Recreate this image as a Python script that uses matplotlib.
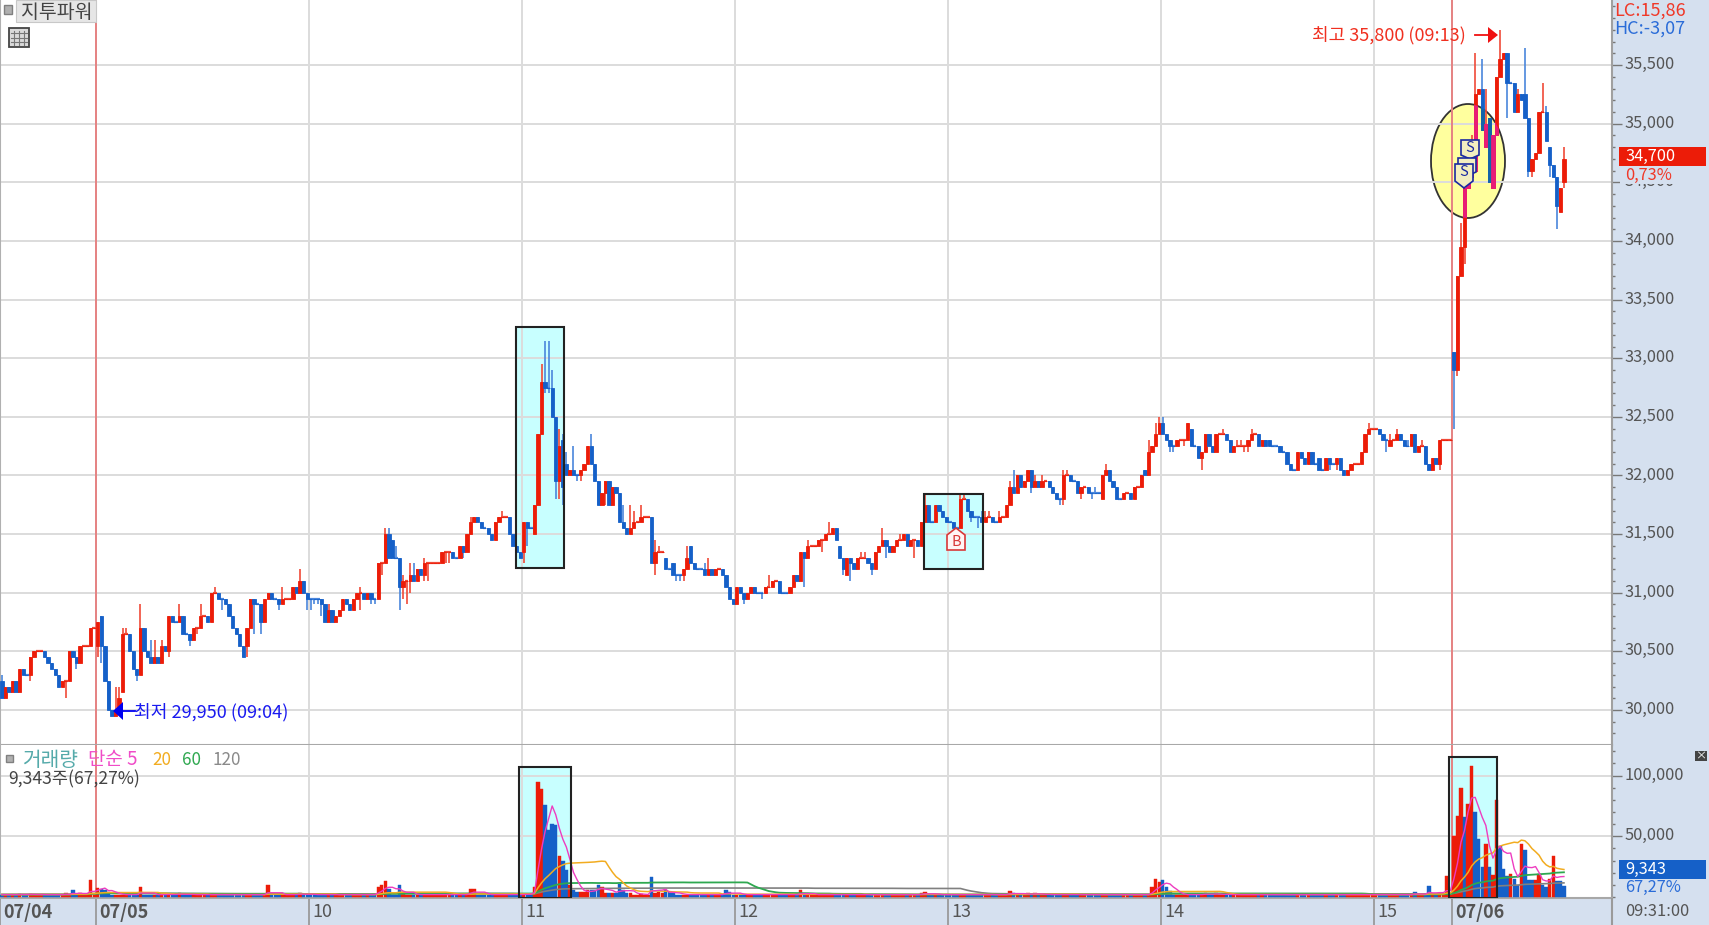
import numpy as np
import pandas as pd
import matplotlib
matplotlib.use("Agg")
import matplotlib.pyplot as plt
from matplotlib.patches import Rectangle, Ellipse, Polygon
from matplotlib.transforms import ScaledTranslation
from matplotlib.ticker import FuncFormatter, MultipleLocator

plt.rcParams['font.family'] = ['Noto Sans CJK KR', 'DejaVu Sans']

# ---------- data: 1-minute closes per session hour ----------
first_open = 30250
close_0704 = [30100,30200,30150,30250,30150,30350,30300,30300,30450,30500,30500,30500,30450,30400,30350,30300,30200,30250,30250,30500,30450,30400,30550,30550,30550,30700,30700]
close_09 = [30750,30550,30250,30000,29950,30000,30100,30650,30650,30500,30350,30300,30700,30500,30450,30400,30450,30400,30550,30500,30800,30750,30750,30800,30650,30650,30600,30700,30700,30800,30800,30750,31000,31000,30950,30950,30900,30800,30700,30650,30550,30450,30700,30950,30900,30900,30750,30950,31000,30950,30950,30900,30950,30950,30950,31050,31000,31100,31000,30950]
close_10 = [30950,30950,30950,30900,30750,30850,30750,30800,30850,30950,30900,30850,30950,31000,31000,30950,31000,30950,30950,31250,31250,31500,31300,31300,31300,31050,31100,31100,31150,31100,31200,31150,31250,31250,31250,31250,31250,31350,31350,31350,31300,31300,31400,31350,31500,31600,31650,31600,31550,31550,31500,31450,31600,31650,31650,31650,31500,31400,31350,31300]
close_11 = [31600,31550,31550,31750,32350,32800,32750,32750,32500,31950,32250,31900,32000,32050,32000,32000,32050,32100,32250,32100,31950,31750,31850,31950,31750,31900,31850,31600,31550,31500,31550,31600,31600,31650,31650,31650,31250,31350,31350,31350,31200,31200,31150,31150,31150,31200,31300,31250,31200,31200,31200,31150,31200,31150,31200,31200,31150,31050,30950,30900]
close_12 = [31050,31000,30950,31000,31050,31000,31000,31000,31050,31050,31100,31100,31000,31000,31000,31050,31150,31100,31350,31300,31400,31400,31400,31450,31450,31500,31500,31550,31450,31300,31200,31300,31250,31200,31300,31300,31300,31250,31200,31350,31400,31450,31400,31350,31400,31450,31450,31500,31400,31450,31450,31400,31600,31750,31600,31600,31750,31700,31650,31600]
close_13 = [31600,31550,31550,31800,31800,31700,31650,31650,31650,31600,31650,31650,31600,31600,31650,31650,31750,31900,31850,32000,31900,31950,32050,31900,31950,31900,31950,31950,31900,31850,31800,31800,32000,32000,31950,31950,31850,31900,31900,31850,31850,31850,31850,32000,32050,31950,31900,31800,31800,31850,31850,31800,31900,31900,32000,32000,32200,32250,32350,32450]
close_14 = [32350,32300,32250,32250,32300,32300,32300,32450,32250,32250,32150,32200,32350,32250,32200,32350,32350,32350,32300,32200,32250,32250,32250,32250,32300,32350,32350,32250,32300,32250,32250,32250,32250,32200,32200,32100,32050,32050,32200,32150,32100,32200,32100,32100,32050,32050,32150,32100,32100,32150,32050,32000,32050,32100,32100,32100,32200,32350,32400,32400]
close_15 = [32400,32350,32300,32300,32300,32300,32350,32300,32250,32250,32350,32200,32250,32250,32100,32050,32150,32100,32300,32300,32300,32300]
close_0706 = [32900,33700,33950,34450,34550,34650,35250,35300,34950,35000,34500,34900,35400,35550,35600,35350,35350,35100,35250,35200,35050,34600,34700,34750,35100,35100,34850,34650,34550,34300,34450,34700]

open_gaps = {'09':{0:30550,1:30800,7:30150,42:30550},
             '10':{22:31500,23:31450,25:31300,56:31650},
             '11':{0:31350,3:31500,6:32800,10:31950,11:32300,12:32100,36:31650,40:31300,42:31250,47:31400},
             '12':{0:30900,29:31400,31:31150,54:31750},
             '13':{43:31800,55:32050,56:32000},
             '14':{0:32450,8:32400,30:32300,44:32150},
             '15':{1:32400,4:32250},
             '0706':{0:33050,3:33950,6:34600,8:35300,9:34800,10:35050,11:34450,12:34900,20:35250,26:35100,27:34800,28:34650,30:34250,31:34500}}
highs = {'0704':{0:30300},
         '09':{5:30200,6:30200,7:30700,8:30700,12:30900,15:30600,16:30600,18:30600,23:30900,29:30900,33:31050,52:31050,57:31200},
         '10':{5:30900,14:31050,21:31550,22:31550,24:31400,26:31150,28:31250,29:31250,32:31300,45:31650,48:31600,54:31700},
         '11':{5:32950,6:33150,7:33150,8:32900,10:32400,11:32350,12:32200,14:32250,19:32350,28:31750,30:31750,31:31700,33:31750,37:31450,38:31400,46:31400,51:31250,52:31300},
         '12':{9:31150,20:31450,26:31600,35:31350,36:31350,41:31550,46:31500,53:31850},
         '13':{3:31850,4:31850,9:31700,10:31700,11:31700,14:31700,17:31950,18:32050,24:32000,26:32000,32:32050,33:32050,41:31900,44:32100,56:32300,58:32450,59:32500},
         '14':{0:32500,17:32400,21:32300,22:32300,25:32400,39:32200,58:32450},
         '15':{4:32350,6:32400,9:32300,13:32300},
         '0706':{2:34150,3:34100,5:34900,6:35600,8:35550,9:35300,13:35800,18:35300,20:35650,25:35350,26:35150,31:34800}}
lows = {'0704':{8:30250,18:30100,21:30350},
        '09':{0:30450,1:30400,11:30250,20:30450,26:30550,28:30650,35:30850,42:30450,44:30650,46:30650,51:30850,59:30850},
        '10':{0:30850,1:30900,2:30900,3:30800,14:30850,17:30900,18:30900,20:31150,25:30850,26:30950,27:30900,28:31000,32:31100,33:31100,38:31250,39:31250,43:31300},
        '11':{0:31250,1:31400,6:32700,7:32700,9:31800,10:31800,11:31750,15:31950,16:31950,23:31750,37:31150,43:31100,44:31100,45:31100},
        '12':{2:30900,7:30950,19:31050,24:31350,30:31150,32:31100,38:31150,42:31300,44:31350,50:31300},
        '13':{6:31600,8:31550,23:31850,31:31750,32:31750,37:31800,40:31800,43:31800},
        '14':{2:32200,3:32200,6:32250,11:32050,23:32200,24:32200,47:32050,49:32050},
        '15':{3:32200,16:32050,18:32050},
        '0706':{0:32400,1:32850,3:33800,15:35050,21:34550,22:34550,27:34550,29:34100,31:34450}}

# traded shares per minute; unlisted minutes are the quiet level
quiet_volume = 2000
vol_0704 = {5:2500,8:2500,18:3000,20:5500,22:3000,25:14000}
vol_09 = {0:7500,1:7000,2:6000,3:4000,12:8000,20:2500,23:3000,48:9500,57:3500}
vol_10 = {19:8000,20:10000,21:13000,22:7000,25:9500,26:4000,45:7000,46:7000}
vol_11 = {0:2500,1:2500,2:2500,3:8000,4:95000,5:89000,6:75500,7:55000,8:60500,9:59000,10:34000,11:30000,12:22000,13:10000,14:5500,15:4000,16:4000,17:4000,18:5500,19:5500,20:6000,21:10000,22:8000,23:3000,24:3000,25:3000,26:3000,27:11000,28:5500,29:3500,30:3000,33:2500,36:16500,37:3000,38:4000,39:3000,40:5500,41:4000,42:3000,57:6000,58:4000}
vol_12 = {18:6000,52:3000,53:4000}
vol_13 = {17:5000,18:3000,22:3500,24:3000,57:8000,58:15000,59:12000}
vol_14 = {0:14000,1:8000,2:5000,12:3500,15:3000}
vol_15 = {11:4000,15:9000,18:3000,20:17000}
vol_0706 = [50000,67000,89500,66000,77000,108000,70000,48000,25000,44000,25000,18000,80000,42000,23000,17000,19000,15000,10000,44000,39000,14000,14000,14300,19000,10000,8500,15000,34000,13000,13000,9343]
vol_0706_side = list("rrrbrrbbbrbrrbbbrbbrbbbrrbbrrbbb")

hour_labels = ['07/04','07/05','10','11','12','13','14','15','07/06']
price_ticks = list(range(30000, 36000, 500))
vol_ticks = [50000, 100000]
legend_items = [('거래량','#55AAAA',22,14.6),('단순 5','#F04CC8',88,13.6),('20','#F2AC20',152,12.3),('60','#2FA850',182,12.3),('120','#8A8A8A',213,12.3)]

keys = ['0704','09','10','11','12','13','14','15','0706']
closes = [close_0704,close_09,close_10,close_11,close_12,close_13,close_14,close_15,close_0706]
vols = [vol_0704,vol_09,vol_10,vol_11,vol_12,vol_13,vol_14,vol_15]

# ---------- assemble ----------
o, c, h, l, v, start = [], [], [], [], [], {}
prev = first_open
for k, cl in zip(keys, closes):
    start[k] = len(c)
    for j, cv in enumerate(cl):
        op = open_gaps.get(k, {}).get(j, prev)
        o.append(op); c.append(cv)
        h.append(max(op, cv, highs.get(k, {}).get(j, 0)))
        l.append(min(op, cv, lows.get(k, {}).get(j, 99999)))
        prev = cv
for k, d in zip(keys, vols):
    n = len(closes[keys.index(k)])
    v += [d.get(j, quiet_volume) for j in range(n)]
v += vol_0706
o, c, h, l, v = map(np.array, (o, c, h, l, v))
idx = np.arange(len(c))

RED, BLUE, PINK, DKBLUE = '#EC1C08', '#1560C8', '#E81C78', '#1464A8'
REDW, BLUEW = '#F04A38', '#4A86DC'
cols, last = [], RED
for a, b in zip(o, c):
    if b > a: last = RED
    elif b < a: last = BLUE
    cols.append(last)
i6 = start['0706']
wick_cols = [REDW if x == RED else BLUEW for x in cols]

vcols = [RED if x == RED else BLUE for x in cols]
for j, s in enumerate(vol_0706_side):
    if j < len(vol_0706):
        vcols[i6 + j] = RED if s == 'r' else BLUE

# ---------- figure and scales ----------
W, H = 1709, 925
PANEL = '#D5E0EF'
fig = plt.figure(figsize=(W/100, H/100), dpi=100, facecolor=PANEL)
RIGHT, SPLIT, BOT = 1612, 745, 898
ax = fig.add_axes([0, (H-SPLIT)/H, RIGHT/W, SPLIT/H])
axv = fig.add_axes([0, (H-BOT)/H, RIGHT/W, (BOT-SPLIT)/H])

PXM = 3.55
hour_pos = [-0.5 + start[k] for k in keys]
hour_pos[0] = 26.5 - 96/PXM
xlim = (26.5 - 96/PXM, 26.5 + (RIGHT-96)/PXM)
def xi(px): return 26.5 + (px-96)/PXM
def yp(py): return 30000 + (710-py)/0.11725
def yv(py): return (897-py)/60.7*50000

ax.set_xlim(xlim); axv.set_xlim(xlim)
ax.set_ylim(yp(SPLIT), yp(0))
axv.set_ylim(yv(BOT), yv(SPLIT))

GRID = '#DCDCDC'
TICKC = '#777777'
LABC = '#555555'
for a in (ax, axv):
    a.set_facecolor('white')
    a.set_axisbelow('line')
    a.grid(True, color=GRID, lw=1.4)
    for s in a.spines.values():
        s.set_visible(False)
    a.spines['right'].set_visible(True); a.spines['right'].set_color('#A0A0A0'); a.spines['right'].set_linewidth(1.5)
    a.spines['left'].set_visible(True); a.spines['left'].set_color('#B0B0B0'); a.spines['left'].set_linewidth(1.5)
    a.spines['bottom'].set_visible(True); a.spines['bottom'].set_color('#A8A8A8'); a.spines['bottom'].set_linewidth(1.5)
    a.yaxis.tick_right()
    a.tick_params(axis='y', which='major', length=7, width=1, color=TICKC, labelcolor=LABC, pad=2, labelsize=11.8)
    a.tick_params(axis='y', which='minor', length=2.5, width=1, color=TICKC)

ax.set_yticks(price_ticks)
ax.yaxis.set_minor_locator(MultipleLocator(100))
ax.yaxis.set_major_formatter(FuncFormatter(lambda x, _: f"{int(x):,}"))
axv.set_yticks(vol_ticks)
axv.yaxis.set_minor_locator(MultipleLocator(10000))
axv.yaxis.set_major_formatter(FuncFormatter(lambda x, _: f"{int(x):,}"))
up = ScaledTranslation(0, 2.5/100, fig.dpi_scale_trans)
for a in (ax, axv):
    for t in a.get_yticklabels():
        t.set_ha('left')
        t.set_transform(t.get_transform() + up)

ax.set_xticks(hour_pos); ax.tick_params(axis='x', length=0, labelbottom=False)
axv.set_xticks(hour_pos)
axv.set_xticklabels(hour_labels)
axv.tick_params(axis='x', length=19.5, width=1.3, color='#9A9A9A', pad=-16, labelsize=13, labelcolor=LABC)
off = ScaledTranslation(3/100, 0, fig.dpi_scale_trans)
for t, lab in zip(axv.get_xticklabels(), hour_labels):
    t.set_ha('left')
    t.set_transform(t.get_transform() + off)
    if '/' in lab:
        t.set_fontweight('bold')

# highlight boxes
def box(a, x0, x1, y0, y1, fy):
    a.add_patch(Rectangle((xi(x0), fy(y1)), xi(x1)-xi(x0), fy(y0)-fy(y1), fc='#C8FFFF', ec='none', zorder=1))
    a.add_patch(Rectangle((xi(x0), fy(y1)), xi(x1)-xi(x0), fy(y0)-fy(y1), fc='none', ec='#222222', lw=1.5, zorder=6))
box(ax, 516, 564, 327, 568, yp)
box(ax, 924, 983, 494, 569, yp)
box(axv, 519, 571.5, 767, 898, yv)
box(axv, 1449, 1497, 757, 898, yv)

ell = Ellipse((xi(1468), yp(161)), 74/PXM, yp(104)-yp(218), fc='#FFFF9E', ec='#333333', lw=1.3, zorder=1)
ax.add_patch(ell)

for a in (ax, axv):
    for px in (96, 1452):
        a.axvline(xi(px), color='#E86A6A', lw=1.1, zorder=2)

# candles
ax.vlines(idx, l, h, colors=wick_cols, lw=1.2, zorder=3)
ax.bar(idx, np.abs(c-o), bottom=np.minimum(o, c), width=0.92, color=cols, edgecolor=cols, lw=0.6, zorder=4)
flat = c == o
ax.hlines(c[flat], idx[flat]-0.5, idx[flat]+0.5, colors=[wick_cols[i] for i in idx[flat]], lw=1.6, zorder=3)
# inside the yellow ellipse the bodies blend with the fill
inside_cols = [PINK if x == RED else DKBLUE for x in cols[i6:]]
blend = ax.bar(idx[i6:], np.abs(c-o)[i6:], bottom=np.minimum(o, c)[i6:], width=0.92, color=inside_cols, edgecolor=inside_cols, lw=0.6, zorder=4.5)
for b in blend:
    b.set_clip_path(ell)

# volume bars and moving averages
axv.bar(idx, v, width=0.96, color=vcols, edgecolor=vcols, lw=0.3, zorder=3)
ser = pd.Series(v, dtype=float)
for win, col, lw in [(120,'#808080',1.2),(60,'#2FA850',1.3),(20,'#F2AC20',1.1),(5,'#EE3CC0',1.0)]:
    axv.plot(idx, ser.rolling(win, min_periods=1).mean(), color=col, lw=lw, zorder=5)

# ---------- overlay in reference pixels ----------
ov = fig.add_axes([0, 0, 1, 1], zorder=10)
ov.set_xlim(0, W); ov.set_ylim(H, 0); ov.axis('off'); ov.patch.set_alpha(0)
def txt(x, y, s, color=LABC, size=12.3, **kw):
    ov.text(x, y, s, color=color, fontsize=size, va='center', ha=kw.pop('ha', 'left'), **kw)

# top-left controls
ov.add_patch(Rectangle((4, 5), 8, 9, fc='#B0B0B0', ec='#808080', lw=1))
ov.add_patch(Rectangle((16, 0), 80, 22, fc='#E6E6E6', ec='#C8C8C8', lw=0.8))
txt(21, 12.5, '지투파워', '#444444', 14)
ov.add_patch(Rectangle((9, 28), 20, 19, fc='#DADADA', ec='#444444', lw=1.3))
for gx in (14, 19, 24):
    ov.plot([gx, gx], [31, 45], color='#777777', lw=0.8)
for gy in (33, 38, 42):
    ov.plot([11, 27], [gy, gy], color='#777777', lw=0.8)

# high / low callouts
txt(1312, 35, '최고 35,800 (09:13)', '#F03020', 13)
ov.plot([1475, 1490], [35, 35], color='#F01010', lw=1.3)
ov.add_patch(Polygon([[1488, 27], [1498, 35], [1488, 43]], fc='#F01010', ec='none'))
txt(134, 712, '최저 29,950 (09:04)', '#1A1AF0', 13.1)
ov.plot([122, 135], [711, 711], color='#0000F0', lw=1.3)
ov.add_patch(Polygon([[123, 702], [113, 711], [123, 720]], fc='#0000F0', ec='none'))

# buy / sell flags
def flag(x0, y0, w, h1, h2, letter, ec, tc, fc, up=False):
    if up:
        pts = [[x0+w/2, y0], [x0+w, y0+h2], [x0+w, y0+h1+h2], [x0, y0+h1+h2], [x0, y0+h2]]
    else:
        pts = [[x0, y0], [x0+w, y0], [x0+w, y0+h1], [x0+w/2, y0+h1+h2], [x0, y0+h1]]
    ov.add_patch(Polygon(pts, fc=fc, ec=ec, lw=1.2))
    ov.text(x0+w/2, y0+(h2+h1/2 if up else h1/2), letter, color=tc, fontsize=10.5, ha='center', va='center')
flag(1461, 140, 18, 15, 4, 'S', '#1A2AA0', '#1A2AA0', '#F3EFC0')
flag(1458, 158, 18, 14, 4, '', '#1A2AA0', '#1A2AA0', '#F3EFC0')
flag(1455, 164, 18, 17, 7, 'S', '#1A2AA0', '#1A2AA0', '#F3EFC0')
flag(947, 528, 18, 15, 7, 'B', '#D83838', '#D83838', '#FFF4F4', up=True)

# volume legend
ov.add_patch(Rectangle((6, 755), 7, 7, fc='#B0B0B0', ec='#808080', lw=1))
for s, col, x, sz in legend_items:
    txt(x, 760, s, col, sz)
txt(8, 779, '9,343주(67,27%)', '#444444', 12.6)

# right panel read-outs
txt(1614, 11, 'LC:15,86', '#F03828', 13)
txt(1614, 29, 'HC:-3,07', '#2A6CD8', 13)
ov.add_patch(Rectangle((1619, 147), 87, 19, fc='#EC1C08', ec='none'))
txt(1625, 156.5, '34,700', 'white', 11.8)
ov.add_patch(Rectangle((1620, 166), 86, 17.5, fc=PANEL, ec='none'))
txt(1625, 175, '0,73%', '#F03828', 11.8)
ov.add_patch(Rectangle((1619, 860), 87, 19, fc='#1560C8', ec='none'))
txt(1625, 869.5, '9,343', 'white', 11.8)
txt(1625, 887, '67,27%', '#2A6CD8', 11.8)
ov.add_patch(Rectangle((1695, 751), 12, 10, fc='#444444', ec='none'))
ov.text(1701, 755.5, '×', color='white', fontsize=8, ha='center', va='center')
ov.plot([1612, 1612], [899, 925], color='#9A9A9A', lw=1.5)
txt(1625, 912, '09:31:00', LABC, 11.8)

fig.savefig('out.png', dpi=100, facecolor=PANEL)
